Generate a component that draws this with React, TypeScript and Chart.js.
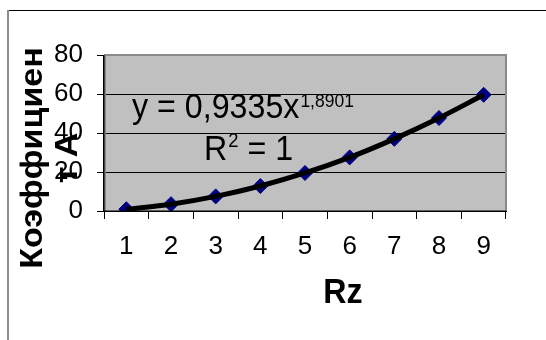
import React, { useEffect, useRef } from "react";
import { Chart, registerables } from "chart.js";

Chart.register(...registerables);

const categories = ["1", "2", "3", "4", "5", "6", "7", "8", "9"];
const coefA = [0.9, 3.5, 7.5, 12.8, 19.5, 27.5, 37, 47.7, 59.6];
const trendA = [0.9, 3.5, 7.5, 12.8, 19.5, 27.5, 37, 47.7, 59.6];
const yTicks = [0, 20, 40, 60, 80];
const equationMain = "y = 0,9335x";
const equationExp = "1,8901";
const r2Text = ["R", "2", " = 1"];
const yTitle = ["Коэффициен", "т А"];
const xTitle = "Rz";

const FONT = "'Liberation Sans', Arial, sans-serif";
const SX = 0.92;

function drawScaled(ctx: any, text: string, x: number, y: number, font: string, align = "left") {
  ctx.save();
  ctx.font = font;
  ctx.textAlign = align;
  ctx.textBaseline = "alphabetic";
  ctx.translate(x, y);
  ctx.scale(SX, 1);
  ctx.fillText(text, 0, 0);
  const w = ctx.measureText(text).width * SX;
  ctx.restore();
  return w;
}

const decor = {
  id: "decor",
  beforeDraw(chart: any) {
    const { ctx, chartArea: a } = chart;
    ctx.save();
    ctx.fillStyle = "#ffffff";
    ctx.fillRect(0, 0, chart.width, chart.height);
    // outer frame
    ctx.fillStyle = "#000000";
    ctx.fillRect(7, 10, chart.width - 7, 1);
    ctx.fillStyle = "#8c8c8c";
    ctx.fillRect(7, 10, 2, chart.height - 10);
    // plot area
    ctx.fillStyle = "#c0c0c0";
    ctx.fillRect(a.left, a.top, a.right - a.left, a.bottom - a.top);
    ctx.restore();
  },
  afterDraw(chart: any) {
    const { ctx, chartArea: a } = chart;
    ctx.save();
    // plot border top/right/left (gray)
    ctx.strokeStyle = "#8a8a8a";
    ctx.lineWidth = 2;
    ctx.beginPath();
    ctx.moveTo(a.left + 1, a.bottom);
    ctx.lineTo(a.left + 1, a.top);
    ctx.lineTo(a.right, a.top);
    ctx.lineTo(a.right, a.bottom);
    ctx.stroke();
    // black axis lines
    ctx.fillStyle = "#000000";
    ctx.fillRect(a.left - 1, a.top, 1.5, a.bottom - a.top + 1);
    ctx.fillRect(a.left - 1, a.bottom - 0.5, a.right - a.left + 1, 1.5);

    ctx.fillStyle = "#000000";
    // equation
    const ex = 132;
    const w1 = drawScaled(ctx, equationMain, ex, 118, `35px ${FONT}`);
    drawScaled(ctx, equationExp, ex + w1 + 1, 107, `19px ${FONT}`);

    const rx = 204;
    const wr = drawScaled(ctx, r2Text[0], rx, 160, `35px ${FONT}`);
    const w2 = drawScaled(ctx, r2Text[1], rx + wr + 1, 147, `20px ${FONT}`);
    drawScaled(ctx, r2Text[2], rx + wr + w2 + 1, 160, `35px ${FONT}`);

    // x title
    drawScaled(ctx, xTitle, 343, 303, `bold 35px ${FONT}`, "center");

    // y title (rotated, two lines)
    ctx.save();
    ctx.translate(0, 158);
    ctx.rotate(-Math.PI / 2);
    ctx.scale(1, SX);
    ctx.textAlign = "center";
    ctx.textBaseline = "alphabetic";
    ctx.font = `bold 34px ${FONT}`;
    ctx.fillText(yTitle[0], 0, 42 / SX);
    ctx.fillText(yTitle[1], 0, 77 / SX);
    ctx.restore();
    ctx.restore();
  },
};

export default function App() {
  const ref = useRef<HTMLCanvasElement>(null);
  useEffect(() => {
    if (!ref.current) return;
    const chart = new Chart(ref.current, {
      type: "line",
      data: {
        labels: categories,
        datasets: [
          {
            label: "trend",
            data: trendA,
            borderColor: "#000000",
            borderWidth: 5,
            pointRadius: 0,
            cubicInterpolationMode: "monotone",
            fill: false,
          },
          {
            label: "A",
            data: coefA,
            showLine: false,
            pointStyle: "rectRot",
            pointRadius: 7.5,
            pointBackgroundColor: "#000080",
            pointBorderColor: "#000080",
            pointBorderWidth: 1,
          },
        ],
      },
      options: {
        animation: false,
        responsive: false,
        devicePixelRatio: 1,
        layout: { padding: { left: 0, right: 40, top: 55, bottom: 0 } },
        plugins: {
          legend: { display: false },
          tooltip: { enabled: false },
          title: { display: false },
        },
        scales: {
          x: {
            type: "category",
            offset: true,
            afterFit: (s: any) => {
              s.height = 129;
            },
            grid: {
              offset: true,
              drawOnChartArea: false,
              drawTicks: true,
              tickLength: 8,
              color: "#000000",
              lineWidth: 1,
            },
            border: { display: true, color: "#000000", width: 1 },
            ticks: {
              color: "#000000",
              font: { family: FONT, size: 26 },
              padding: 12,
              maxRotation: 0,
              autoSkip: false,
            },
          },
          y: {
            min: 0,
            max: 80,
            afterFit: (s: any) => {
              s.width = 104;
            },
            afterBuildTicks: (s: any) => {
              s.ticks = yTicks.map((v) => ({ value: v }));
            },
            grid: {
              color: "#000000",
              lineWidth: 1,
              tickLength: 7,
              drawTicks: true,
            },
            border: { display: true, color: "#000000", width: 1 },
            ticks: {
              color: "#000000",
              font: { family: FONT, size: 26 },
              padding: 14,
            },
          },
        },
      },
      plugins: [decor],
    });
    return () => chart.destroy();
  }, []);
  return (
    <div style={{ position: "absolute", left: 0, top: 0, width: 546, height: 340 }}>
      <canvas ref={ref} width={546} height={340} style={{ display: "block" }} />
    </div>
  );
}
